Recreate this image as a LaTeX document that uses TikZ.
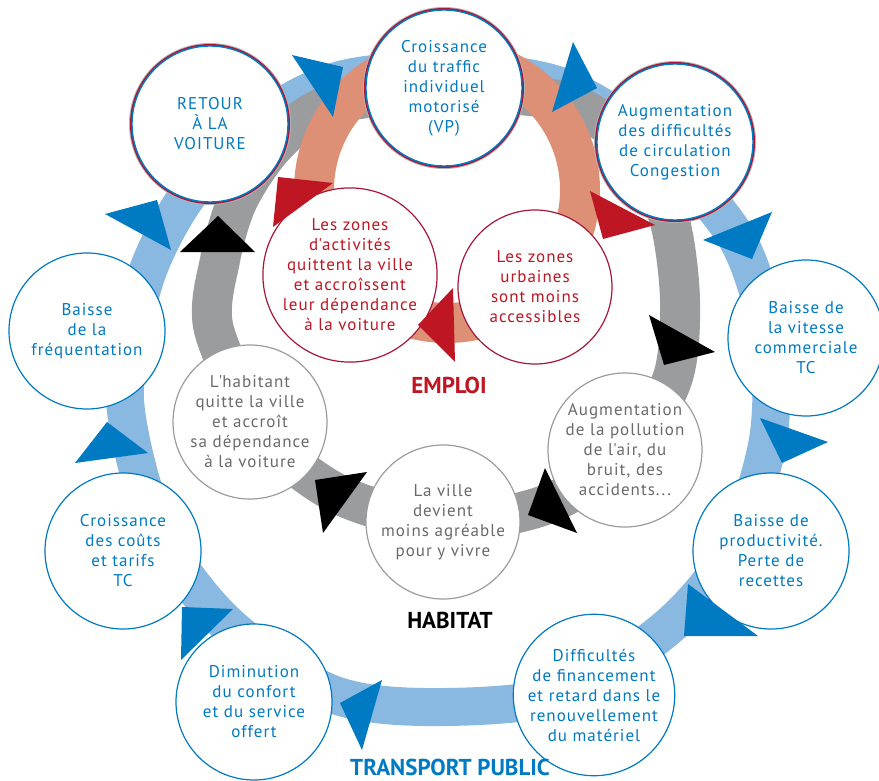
\documentclass[tikz,border=0pt]{standalone}
\usepackage{fontspec}
\setmainfont{PT Sans}
\newfontfamily\circfont[LetterSpace=6]{PT Sans}
\usetikzlibrary{backgrounds}
\definecolor{tpblue}{RGB}{0,122,194}
\definecolor{tplight}{RGB}{137,184,225}
\definecolor{habgray}{RGB}{155,156,158}
\definecolor{habtext}{RGB}{105,106,108}
\definecolor{empsalmon}{RGB}{221,144,117}
\definecolor{empred}{RGB}{190,22,34}
\definecolor{empdark}{RGB}{168,22,58}

\begin{document}
\begin{tikzpicture}[x=1pt, y=-1pt]
	\tikzstyle{tpnode}=[circle, minimum size=156pt, inner sep=0pt, draw=tpblue, line width=1.2pt, fill=white, text=tpblue, align=center, font=\circfont\fontsize{17}{20}\selectfont]
	\tikzstyle{topnode}=[tpnode, line width=1.4pt, preaction={draw=black!30, line width=6pt}, preaction={draw=empdark, line width=4pt}]
	\tikzstyle{habnode}=[tpnode, minimum size=154pt, draw=habgray, text=habtext]
	\tikzstyle{empnode}=[tpnode, minimum size=154pt, draw=empdark, text=empred]
	\tikzstyle{tpring}=[draw=tplight, line width=38pt]
	\tikzstyle{habring}=[draw=habgray, line width=40pt]
	\tikzstyle{empring}=[draw=empsalmon, line width=40pt]
	\tikzstyle{ringlab}=[inner sep=1pt, font=\bfseries\fontsize{23}{25}\selectfont]
	\tikzstyle{tparrow}=[fill=tpblue]
	\tikzstyle{emparrow}=[fill=empred]
	\tikzstyle{habarrow}=[fill=black]
	\useasboundingbox (0,0) rectangle (879,781);
	% outer cycle (transport public)
	\node[topnode] (retour) at (210,124) {RETOUR\\À LA\\VOITURE};
	\node[topnode] (vp) at (444,88) {Croissance\\du traffic\\individuel\\motorisé\\(VP)};
	\node[topnode] (congest) at (675,142) {Augmentation\\des difficultés\\de circulation\\Congestion};
	\node[tpnode] (vitesse) at (806,338) {Baisse de\\la vitesse\\commerciale\\TC};
	\node[tpnode] (produc) at (771,551) {Baisse de\\productivité.\\Perte de\\recettes};
	\node[tpnode] (financ) at (594,695) {Difficultés\\de financement\\et retard dans le\\renouvellement\\du matériel};
	\node[tpnode] (confort) at (254,702) {Diminution\\du confort\\et du service\\offert};
	\node[tpnode] (couts) at (123,551) {Croissance\\des coûts\\et tarifs\\TC};
	\node[tpnode] (frequ) at (87,331) {Baisse\\de la\\fréquentation};
	% habitat
	\node[habnode] (habitant) at (250,422) {L\textquotesingle habitant\\quitte la ville\\et accroît\\sa dépendance\\à la voiture};
	\node[habnode] (ville) at (443,522) {La ville\\devient\\moins agréable\\pour y vivre};
	\node[habnode] (pollu) at (625,450) {Augmentation\\de la pollution\\de l\textquotesingle air, du\\bruit, des\\accidents...};
	% emploi
	\node[empnode] (activ) at (350,275) {Les zones\\d\textquotesingle activités\\quittent la ville\\et accroîssent\\leur dépendance\\à la voiture};
	\node[empnode] (urbain) at (535,287) {Les zones\\urbaines\\sont moins\\accessibles};
	\node[ringlab, text=empred] (emploi) at (449,385) {EMPLOI};
	\node[ringlab] (habitat) at (450,620) {HABITAT};
	\node[ringlab, text=tpblue] (transport) at (450,767) {TRANSPORT PUBLIC};
	\coordinate (empc) at (447,190);
	\begin{scope}[on background layer]
		\draw[tpring] plot[smooth cycle] coordinates {(125,400) (144,282) (188,195) (262,120) (340,80) (447,70) (560,86) (655,145) (736,237) (768,335) (768,440) (733,548) (668,627) (560,695) (424,707) (327,692) (225,622) (158,530)};
		\draw[habring] plot[smooth cycle] coordinates {(214,330) (220,260) (238,200) (275,145) (330,105) (447,92) (565,102) (630,145) (668,215) (680,300) (672,380) (625,455) (545,505) (443,522) (340,495) (265,435)};
		\draw[empring] (empc) circle[radius=133];
	\end{scope}
	% arrow heads
	\fill[tparrow] (292,55) -- (343,67) -- (333,117) -- cycle;
	\fill[tparrow] (573,42) -- (597,88) -- (552,112) -- cycle;
	\fill[tparrow] (703,240) -- (772,212) -- (752,259) -- cycle;
	\fill[tparrow] (760,418) -- (828,442) -- (782,463) -- cycle;
	\fill[tparrow] (688,584) -- (758,636) -- (684,636) -- cycle;
	\fill[tparrow] (340,703) -- (382,680) -- (362,750) -- cycle;
	\fill[tparrow] (182,607) -- (233,609) -- (181,660) -- cycle;
	\fill[tparrow] (75,463) -- (107,422) -- (148,453) -- cycle;
	\fill[tparrow] (105,214) -- (157,200) -- (171,250) -- cycle;
	\fill[emparrow] (278,177) -- (333,183) -- (273,227) -- cycle;
	\fill[emparrow] (418,325) -- (453,288) -- (455,362) -- cycle;
	\fill[emparrow] (590,191) -- (655,225) -- (603,239) -- cycle;
	\fill[habarrow] (180,252) -- (218,216) -- (255,252) -- cycle;
	\fill[habarrow] (649,315) -- (715,352) -- (664,365) -- cycle;
	\fill[habarrow] (315,480) -- (367,472) -- (323,533) -- cycle;
	\fill[habarrow] (545,468) -- (528,515) -- (577,533) -- cycle;
\end{tikzpicture}
\end{document}
